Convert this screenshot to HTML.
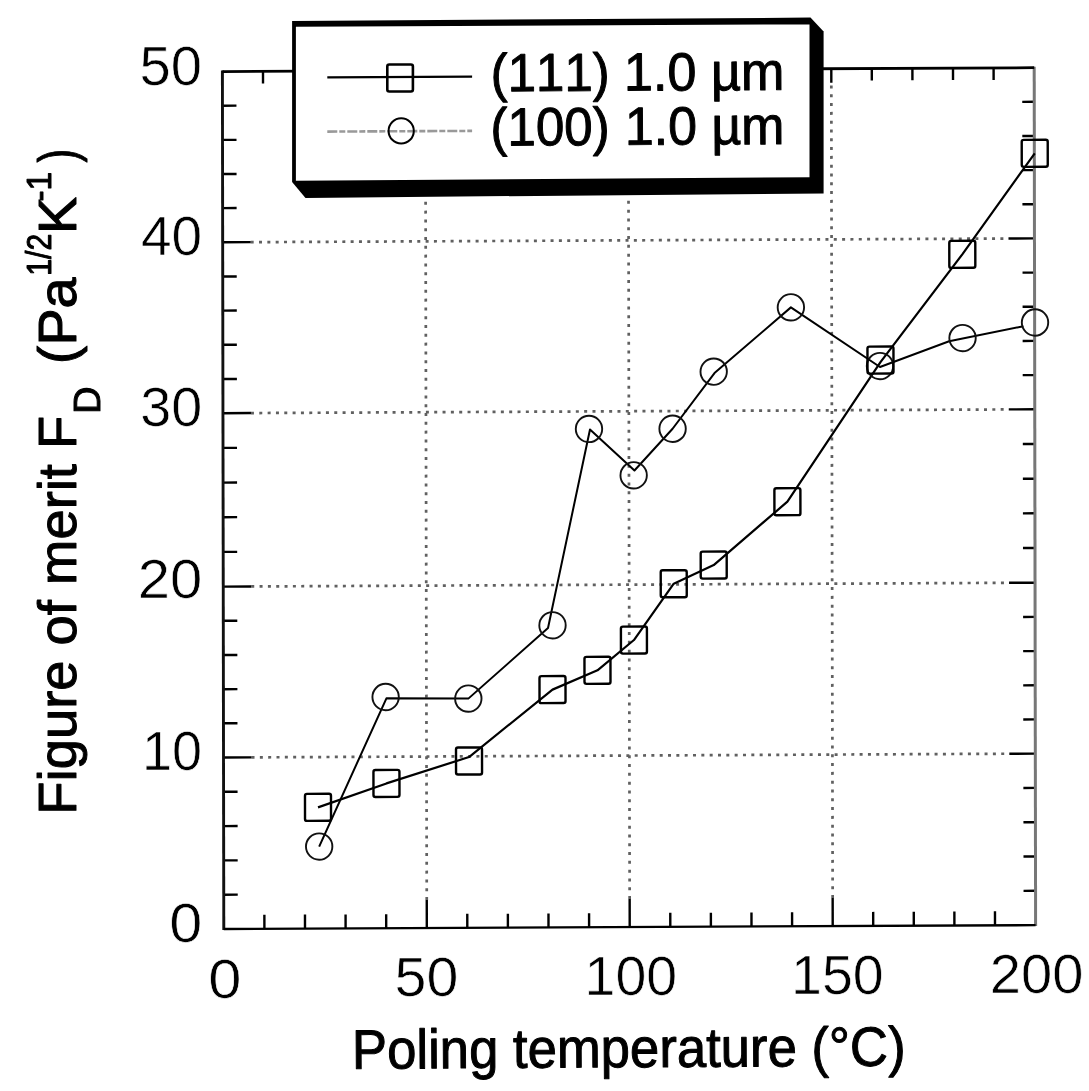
<!DOCTYPE html><html><head><meta charset="utf-8"><style>html,body{margin:0;padding:0;background:#fff;}svg{display:block}text{font-family:"Liberation Sans",Arial,Helvetica,sans-serif;fill:#000;stroke:#000;stroke-width:1.00px;stroke-linejoin:round;font-kerning:none;font-feature-settings:"kern" 0}</style></head><body>
<svg width="1089" height="1091" viewBox="0 0 1089 1091">
<rect width="1089" height="1091" fill="#fff"/>
<g transform="matrix(1.000000,-0.004804,0.001633,1.000000,-1.517,1.075)">
<line x1="426.8" y1="901.0" x2="426.8" y2="83.6" stroke="#606060" stroke-width="2.7" stroke-dasharray="3 5.8" fill="none"/>
<line x1="629.7" y1="901.0" x2="629.7" y2="83.6" stroke="#606060" stroke-width="2.7" stroke-dasharray="3 5.8" fill="none"/>
<line x1="832.7" y1="901.0" x2="832.7" y2="83.6" stroke="#606060" stroke-width="2.7" stroke-dasharray="3 5.8" fill="none"/>
<line x1="251.8" y1="757.5" x2="1009.6" y2="757.5" stroke="#606060" stroke-width="2.7" stroke-dasharray="3 5.33" fill="none"/>
<line x1="251.8" y1="586.6" x2="1009.6" y2="586.6" stroke="#606060" stroke-width="2.7" stroke-dasharray="3 5.33" fill="none"/>
<line x1="251.8" y1="413.2" x2="1009.6" y2="413.2" stroke="#606060" stroke-width="2.7" stroke-dasharray="3 5.33" fill="none"/>
<line x1="251.8" y1="242.3" x2="1009.6" y2="242.3" stroke="#606060" stroke-width="2.7" stroke-dasharray="3 5.33" fill="none"/>
<path d="M264.4 929.0v-14 M264.4 71.6v12 M305.0 929.0v-14 M305.0 71.6v12 M345.6 929.0v-14 M345.6 71.6v12 M386.2 929.0v-14 M386.2 71.6v12 M426.8 929.0v-28 M426.8 71.6v14 M467.3 929.0v-14 M467.3 71.6v12 M507.9 929.0v-14 M507.9 71.6v12 M548.5 929.0v-14 M548.5 71.6v12 M589.1 929.0v-14 M589.1 71.6v12 M629.7 929.0v-28 M629.7 71.6v14 M670.3 929.0v-14 M670.3 71.6v12 M710.9 929.0v-14 M710.9 71.6v12 M751.5 929.0v-14 M751.5 71.6v12 M792.1 929.0v-14 M792.1 71.6v12 M832.7 929.0v-28 M832.7 71.6v14 M873.2 929.0v-14 M873.2 71.6v12 M913.8 929.0v-14 M913.8 71.6v12 M954.4 929.0v-14 M954.4 71.6v12 M995.0 929.0v-14 M995.0 71.6v12 M223.8 894.7h14 M1035.6 894.7h-12 M223.8 860.4h14 M1035.6 860.4h-12 M223.8 826.1h14 M1035.6 826.1h-12 M223.8 791.8h14 M1035.6 791.8h-12 M223.8 757.5h28 M1035.6 757.5h-26 M223.8 723.3h14 M1035.6 723.3h-12 M223.8 689.2h14 M1035.6 689.2h-12 M223.8 655.0h14 M1035.6 655.0h-12 M223.8 620.8h14 M1035.6 620.8h-12 M223.8 586.6h28 M1035.6 586.6h-26 M223.8 551.9h14 M1035.6 551.9h-12 M223.8 517.2h14 M1035.6 517.2h-12 M223.8 482.6h14 M1035.6 482.6h-12 M223.8 447.9h14 M1035.6 447.9h-12 M223.8 413.2h28 M1035.6 413.2h-26 M223.8 379.0h14 M1035.6 379.0h-12 M223.8 344.8h14 M1035.6 344.8h-12 M223.8 310.6h14 M1035.6 310.6h-12 M223.8 276.5h14 M1035.6 276.5h-12 M223.8 242.3h28 M1035.6 242.3h-26 M223.8 208.1h14 M1035.6 208.1h-12 M223.8 174.0h14 M1035.6 174.0h-12 M223.8 139.9h14 M1035.6 139.9h-12 M223.8 105.7h14 M1035.6 105.7h-12" stroke="#000" stroke-width="2.4" fill="none"/>
<path d="M223.8 70.4V930.0" stroke="#111" stroke-width="2.9" fill="none"/>
<path d="M1035.6 930.0V70.6" stroke="#777" stroke-width="3" fill="none"/>
<path d="M223.8 929.0H1035.6" stroke="#000" stroke-width="2.4" fill="none"/>
<path d="M1035.6 71.6H223.8" stroke="#000" stroke-width="2.8" fill="none"/>
<polyline points="319.3,847.0 386.8,699.1 468.7,699.8 548.5,629.6 590.8,431.2 635.2,472.5 673.4,430.9 715.4,375.4 791.9,310.1 880.9,370.2 950.1,344.8 1024.4,330.1" stroke="#000" stroke-width="2.0" fill="none" stroke-linejoin="round"/>
<polyline points="318.2,807.8 386.7,784.2 469.3,758.2 552.9,691.2 597.9,672.1 634.4,642.0 674.3,585.9 714.3,567.4 788.1,504.4 881.4,365.2 963.4,257.9 1036.0,157.2" stroke="#000" stroke-width="2.2" fill="none" stroke-linejoin="round"/>
<circle cx="319.3" cy="847.0" r="13.2" stroke="#111" stroke-width="1.9" fill="none"/>
<circle cx="386.0" cy="697.8" r="13.2" stroke="#111" stroke-width="1.9" fill="none"/>
<circle cx="468.7" cy="699.8" r="13.2" stroke="#111" stroke-width="1.9" fill="none"/>
<circle cx="553.0" cy="626.9" r="13.2" stroke="#111" stroke-width="1.9" fill="none"/>
<circle cx="589.8" cy="430.7" r="13.2" stroke="#111" stroke-width="1.9" fill="none"/>
<circle cx="634.4" cy="477.3" r="13.2" stroke="#111" stroke-width="1.9" fill="none"/>
<circle cx="673.4" cy="430.9" r="13.2" stroke="#111" stroke-width="1.9" fill="none"/>
<circle cx="714.6" cy="374.0" r="13.2" stroke="#111" stroke-width="1.9" fill="none"/>
<circle cx="791.9" cy="310.1" r="13.2" stroke="#111" stroke-width="1.9" fill="none"/>
<circle cx="880.9" cy="369.2" r="13.2" stroke="#111" stroke-width="1.9" fill="none"/>
<circle cx="963.5" cy="341.6" r="13.2" stroke="#111" stroke-width="1.9" fill="none"/>
<circle cx="1036.0" cy="326.4" r="13.2" stroke="#111" stroke-width="1.9" fill="none"/>
<rect x="305.2" y="794.3" width="26" height="27" rx="2" stroke="#000" stroke-width="2.4" fill="none"/>
<rect x="373.7" y="770.7" width="26" height="27" rx="2" stroke="#000" stroke-width="2.4" fill="none"/>
<rect x="456.3" y="748.7" width="26" height="27" rx="2" stroke="#000" stroke-width="2.4" fill="none"/>
<rect x="539.9" y="677.7" width="26" height="27" rx="2" stroke="#000" stroke-width="2.4" fill="none"/>
<rect x="584.9" y="658.6" width="26" height="27" rx="2" stroke="#000" stroke-width="2.4" fill="none"/>
<rect x="621.4" y="628.5" width="26" height="27" rx="2" stroke="#000" stroke-width="2.4" fill="none"/>
<rect x="661.3" y="572.4" width="26" height="27" rx="2" stroke="#000" stroke-width="2.4" fill="none"/>
<rect x="701.3" y="553.9" width="26" height="27" rx="2" stroke="#000" stroke-width="2.4" fill="none"/>
<rect x="775.1" y="490.9" width="26" height="27" rx="2" stroke="#000" stroke-width="2.4" fill="none"/>
<rect x="868.4" y="349.7" width="26" height="27" rx="2" stroke="#000" stroke-width="2.4" fill="none"/>
<rect x="950.4" y="244.4" width="26" height="27" rx="2" stroke="#000" stroke-width="2.4" fill="none"/>
<rect x="1023.0" y="143.7" width="26" height="27" rx="2" stroke="#000" stroke-width="2.4" fill="none"/>
</g>
<polygon points="292.1,21.0 810.5,17.6 823.6,31.5 823.6,193.4 305.5,197.9 292.1,182" fill="#000"/>
<polygon points="295.9,26.8 809.5,24.4 809.5,177.2 295.9,180.8" fill="#fff"/>
<line x1="327.3" y1="77.3" x2="472.1" y2="76.6" stroke="#000" stroke-width="2.3"/>
<rect x="387.3" y="64.5" width="25.6" height="27" rx="2" stroke="#000" stroke-width="2.6" fill="none"/>
<line x1="327.3" y1="131.6" x2="472.1" y2="130.9" stroke="#999" stroke-width="2.6" stroke-dasharray="10 2 6 2"/>
<circle cx="401.2" cy="130.9" r="12.6" stroke="#000" stroke-width="2" fill="none"/>
<g transform="rotate(-0.3 493 91.3)"><text x="490.74" y="91.30" font-size="53.50" textLength="119.05" lengthAdjust="spacingAndGlyphs">(111)</text><text x="624.09" y="91.30" font-size="53.50" textLength="160.41" lengthAdjust="spacingAndGlyphs">1.0 µm</text></g>
<g transform="rotate(-0.3 493 145.5)"><text x="490.53" y="145.50" font-size="53.50" textLength="119.27" lengthAdjust="spacingAndGlyphs">(100)</text><text x="624.91" y="145.50" font-size="53.50" textLength="159.57" lengthAdjust="spacingAndGlyphs">1.0 µm</text></g>
<text x="169.33" y="941.75" font-size="54.79" textLength="33.02" lengthAdjust="spacingAndGlyphs" style="stroke:#fff;stroke-width:0.6px">0</text>
<text x="142.05" y="770.25" font-size="55.07" textLength="60.03" lengthAdjust="spacingAndGlyphs" style="stroke:#fff;stroke-width:0.6px">10</text>
<text x="137.70" y="598.15" font-size="55.07" textLength="64.56" lengthAdjust="spacingAndGlyphs" style="stroke:#fff;stroke-width:0.6px">20</text>
<text x="140.17" y="425.75" font-size="55.07" textLength="61.99" lengthAdjust="spacingAndGlyphs" style="stroke:#fff;stroke-width:0.6px">30</text>
<text x="141.03" y="255.44" font-size="56.06" textLength="61.10" lengthAdjust="spacingAndGlyphs" style="stroke:#fff;stroke-width:0.6px">40</text>
<text x="139.45" y="84.85" font-size="55.49" textLength="62.53" lengthAdjust="spacingAndGlyphs" style="stroke:#fff;stroke-width:0.6px">50</text>
<text x="208.32" y="997.74" font-size="56.06" textLength="33.14" lengthAdjust="spacingAndGlyphs" style="stroke:#fff;stroke-width:0.6px">0</text>
<text x="394.61" y="995.85" font-size="55.21" textLength="63.72" lengthAdjust="spacingAndGlyphs" style="stroke:#fff;stroke-width:0.6px">50</text>
<text x="584.54" y="994.75" font-size="55.07" textLength="92.58" lengthAdjust="spacingAndGlyphs" style="stroke:#fff;stroke-width:0.6px">100</text>
<text x="791.14" y="994.05" font-size="55.07" textLength="92.58" lengthAdjust="spacingAndGlyphs" style="stroke:#fff;stroke-width:0.6px">150</text>
<text x="989.89" y="993.35" font-size="55.21" textLength="93.65" lengthAdjust="spacingAndGlyphs" style="stroke:#fff;stroke-width:0.6px">200</text>
<g transform="rotate(-0.33 630 1067)"><text x="352.09" y="1067.20" font-size="55.50" textLength="553.60" lengthAdjust="spacingAndGlyphs">Poling temperature (°C)</text></g>
<text transform="translate(75.50,814.65) rotate(-90)" font-size="53.50" textLength="398.93" lengthAdjust="spacingAndGlyphs">Figure of merit F</text>
<text transform="translate(100.40,413.71) rotate(-90)" font-size="36.00" textLength="27.19" lengthAdjust="spacingAndGlyphs">D</text>
<text transform="translate(75.50,364.14) rotate(-90)" font-size="53.50" textLength="86.71" lengthAdjust="spacingAndGlyphs">(Pa</text>
<text transform="translate(50.50,275.76) rotate(-90)" font-size="35.00" textLength="41.98" lengthAdjust="spacingAndGlyphs">1/2</text>
<text transform="translate(75.50,233.95) rotate(-90)" font-size="53.50" textLength="37.12" lengthAdjust="spacingAndGlyphs">K</text>
<text transform="translate(51.40,201.50) rotate(-90)" font-size="35.00" textLength="29.64" lengthAdjust="spacingAndGlyphs">-1</text>
<text transform="translate(75.50,162.61) rotate(-90)" font-size="53.50" textLength="13.71" lengthAdjust="spacingAndGlyphs">)</text>
</svg></body></html>
